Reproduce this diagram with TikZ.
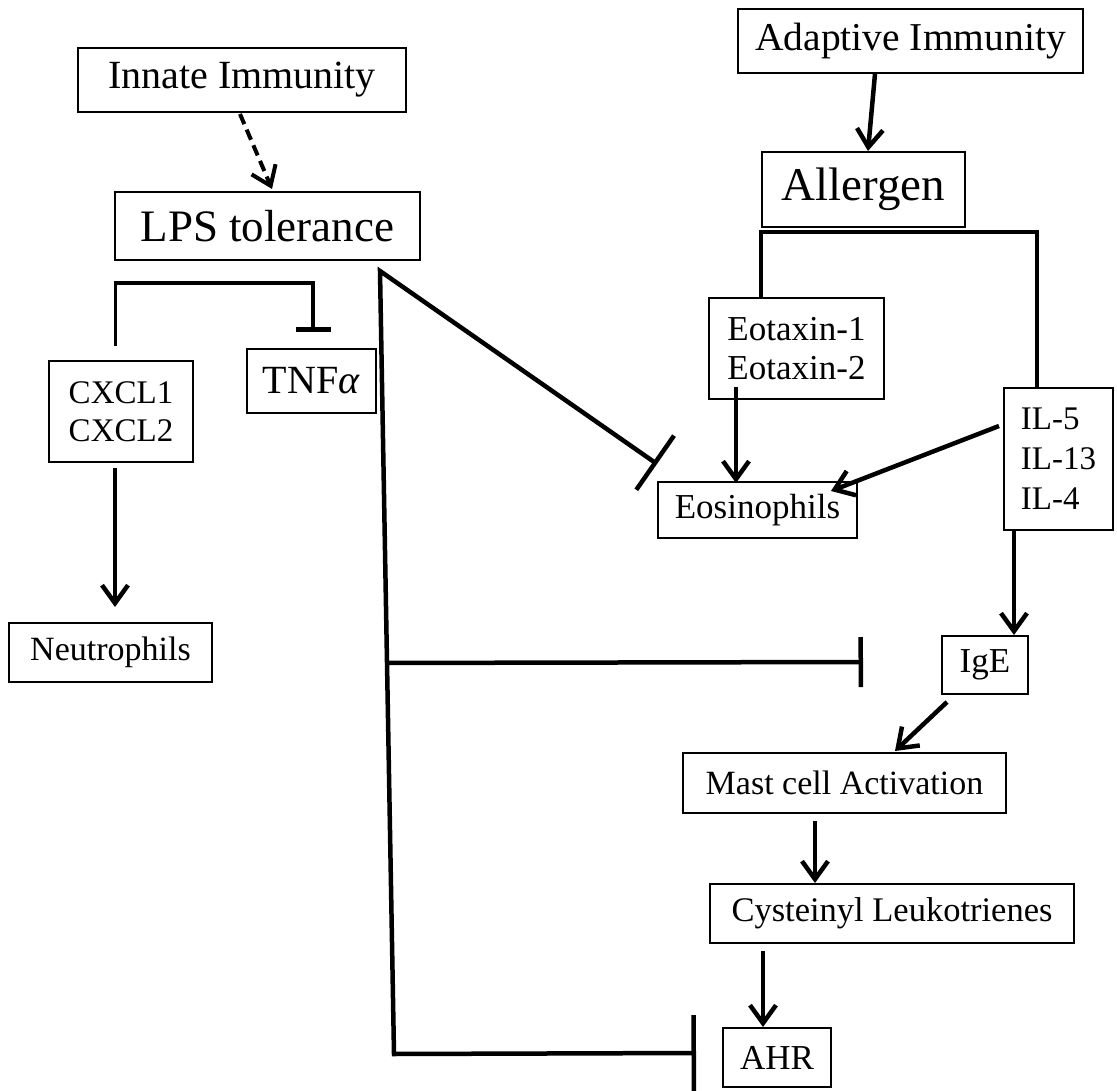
\documentclass[tikz,border=0pt]{standalone}
\usepackage{fontspec}
\setmainfont{Liberation Serif}
\usetikzlibrary{arrows.meta,calc}
\newcommand\fsz[2]{\fontsize{#1}{#2}\selectfont}
\tikzset{
  box/.style={draw, line width=2pt, inner sep=0pt, align=center},
  arr/.style={line width=4.5pt, -{Straight Barb[length=18pt,width=26pt]}},
  dasharr/.style={line width=4pt, dash pattern=on 11pt off 6pt, -{Straight Barb[length=18pt,width=26pt]}},
  inh/.style={line width=4.5pt},
  brk/.style={line width=3.5pt}
}
\begin{document}
\begin{tikzpicture}[x=1pt,y=-1pt]
\useasboundingbox (0,0) rectangle (1117,1091);
\fill[white] (0,0) rectangle (1117,1091);

% nodes
\node[box, minimum width=328pt, minimum height=64pt, font=\fsz{40}{46}] (innate) at (242,80) {Innate Immunity};
\node[box, minimum width=305pt, minimum height=68pt, font=\fsz{45}{52}] (lps) at (267.5,226) {LPS tolerance};
\node[box, minimum width=345pt, minimum height=64pt, font=\fsz{39.5}{46}] (adapt) at (910.5,41) {Adaptive Immunity};
\node[box, minimum width=203pt, minimum height=75pt, font=\fsz{47}{54}] (allergen) at (863.5,189.5) {Allergen};
\node[box, minimum width=175pt, minimum height=101pt, font=\fsz{35}{39}] (eot) at (796.5,348.5) {Eotaxin-1\\Eotaxin-2};
\node[box, minimum width=109pt, minimum height=142pt, font=\fsz{33}{40}, align=left] (il) at (1058.5,459) {IL-5\\IL-13\\IL-4};
\node[box, minimum width=199pt, minimum height=56pt, font=\fsz{35}{40}] (eos) at (757.5,510) {Eosinophils};
\node[box, minimum width=144pt, minimum height=101pt, font=\fsz{33}{38}] (cxcl) at (121,411.5) {CXCL1\\CXCL2};
\node[box, minimum width=129pt, minimum height=64pt, font=\fsz{40}{46}] (tnf) at (311.5,381) {TNF\textit{α}};
\node[box, minimum width=203pt, minimum height=59pt, font=\fsz{34}{40}] (neut) at (110.5,652.5) {Neutrophils};
\node[box, minimum width=86pt, minimum height=58pt, font=\fsz{35}{40}] (ige) at (985,665) {IgE};
\node[box, minimum width=323pt, minimum height=60pt, font=\fsz{34}{40}] (mast) at (844.5,783) {Mast cell Activation};
\node[box, minimum width=364pt, minimum height=59pt, font=\fsz{34.5}{40}] (cyst) at (892,913.5) {Cysteinyl Leukotrienes};
\node[box, minimum width=108pt, minimum height=59pt, font=\fsz{35}{40}] (ahr) at (777,1057.5) {AHR};

% activating arrows
\draw[dasharr] ($(innate.south)+(-2,1)$) -- ($(lps.north)+(4.5,-2)$);
\draw[arr] ($(adapt.south)+(-35.5,0)$) -- ($(allergen.north)+(4.5,0)$);
\draw[arr] ($(cxcl.south)+(-6,5)$) -- ($(neut.north)+(4.5,-15)$);
\draw[arr] ($(eot.south)+(-60.5,-13)$) -- ($(eos.north)+(-21.5,2)$);
\draw[arr] ($(il.west)+(-4,-33)$) -- ($(eos.north east)+(-27,10)$);
\draw[arr] ($(il.south)+(-44.5,0)$) -- ($(ige.north)+(29,0)$);
\draw[arr] ($(ige.south west)+(6,7)$) -- ($(mast.north)+(50.5,-1)$);
\draw[arr] ($(mast.south)+(-29.5,7)$) -- ($(cyst.north)+(-77,0)$);
\draw[arr] ($(cyst.south)+(-129,7)$) -- ($(ahr.north)+(-14,0)$);

% allergen bracket
\coordinate (abL) at ($(allergen.south west)+(0,4)$);
\coordinate (abR) at ($(abL)+(276,0)$);
\draw[brk] (abL |- eot.north) -- (abL) -- (abR) -- (abR |- il.north);

% CXCL / TNF bracket
\coordinate (cbL) at (115,283);
\coordinate (cbR) at (313,283);
\draw[line width=3pt] ($(cxcl.north)+(-6,-14)$) -- ($(cbL)+(0,-2)$);
\draw[inh, -{Bar[width=35pt]}] (cbL) -- (cbR) -- ($(tnf.north)+(1.5,-16)$);

% LPS tolerance inhibitions
\coordinate (V) at ($(lps.south east)+(-41,10)$);
\coordinate (C) at ($(V)+(14,783)$);
\coordinate (eosbar) at ($(eos.north west)+(0,-17)$);
\coordinate (ahrbar) at ($(ahr.west)+(-26,-4.5)$);
\coordinate (igebar) at ($(ige.west)+(-78,-3)$);
\draw[inh, {Bar[width=66pt]}-{Bar[width=76pt]}] (eosbar) -- (V) -- (C) -- (ahrbar);
\draw[inh, -{Bar[width=50pt]}] ($(V)!0.5006!(C)$) -- (igebar);
\end{tikzpicture}
\end{document}
